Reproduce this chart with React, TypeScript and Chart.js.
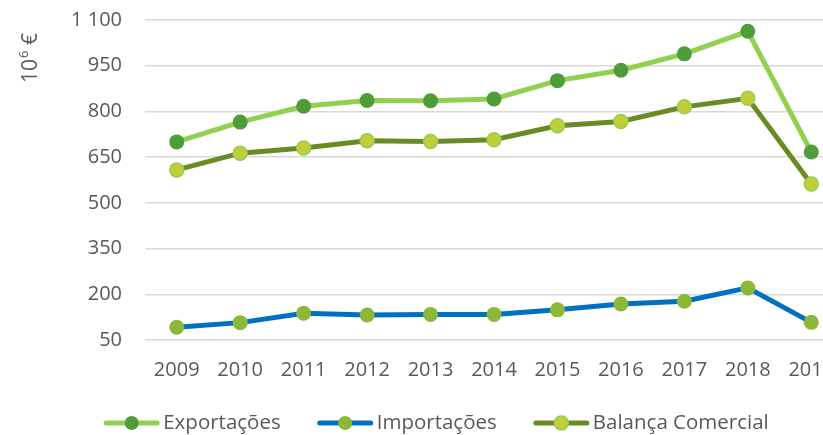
import React, { useEffect, useRef } from "react";
import { Chart, registerables } from "chart.js";

Chart.register(...registerables);

const years = ["2009", "2010", "2011", "2012", "2013", "2014", "2015", "2016", "2017", "2018", "2019"];
const exportacoes = [700, 765, 817, 836, 835, 841, 901, 935, 989, 1063, 667];
const importacoes = [92, 107, 138, 132, 134, 134, 149, 168, 177, 221, 108];
const balanca = [608, 663, 680, 704, 701, 707, 753, 767, 815, 843, 562];
const yTicks = [50, 200, 350, 500, 650, 800, 950, 1100];
const seriesNames = ["Exportações", "Importações", "Balança Comercial"];

const FONT = "'Open Sans', sans-serif";
const TEXT = "#595959";
const FS = 20;

const formatTick = (v: number) => {
  const s = String(Math.round(v));
  return s.length > 3 ? s.slice(0, s.length - 3) + " " + s.slice(-3) : s;
};

const overlayPlugin = {
  id: "overlay",
  afterDraw(chart: any) {
    const ctx = chart.ctx as CanvasRenderingContext2D;
    // y axis title "10^6 €"
    ctx.save();
    ctx.fillStyle = TEXT;
    ctx.translate(37, 83);
    ctx.rotate(-Math.PI / 2);
    ctx.textBaseline = "alphabetic";
    ctx.textAlign = "left";
    ctx.font = `21px ${FONT}`;
    ctx.fillText("10", 0, 0);
    let x = ctx.measureText("10").width;
    ctx.font = `13px ${FONT}`;
    ctx.fillText("6", x + 1, -9);
    x += ctx.measureText("6").width + 1;
    ctx.font = `21px ${FONT}`;
    ctx.fillText(" €", x, 0);
    ctx.restore();

    // legend
    ctx.save();
    ctx.font = `20.5px ${FONT}`;
    const symW = 55;
    const gap = 4;
    const spacing = 37;
    const ds = chart.data.datasets;
    const widths = ds.map((d: any) => symW + gap + ctx.measureText(d.label).width);
    const total = widths.reduce((a: number, b: number) => a + b, 0) + spacing * (ds.length - 1);
    let lx = 436.5 - total / 2;
    const ly = 423;
    ds.forEach((d: any, i: number) => {
      ctx.strokeStyle = d.borderColor;
      ctx.lineWidth = 5;
      ctx.lineCap = "round";
      ctx.beginPath();
      ctx.moveTo(lx + 2, ly);
      ctx.lineTo(lx + symW - 2, ly);
      ctx.stroke();
      ctx.beginPath();
      ctx.arc(lx + symW / 2, ly, 7, 0, Math.PI * 2);
      ctx.fillStyle = d.pointBackgroundColor;
      ctx.fill();
      if (d.pointBorderWidth > 0) {
        ctx.lineWidth = d.pointBorderWidth;
        ctx.strokeStyle = d.pointBorderColor;
        ctx.stroke();
      }
      ctx.fillStyle = TEXT;
      ctx.textBaseline = "middle";
      ctx.textAlign = "left";
      ctx.fillText(d.label, lx + symW + gap, ly);
      lx += widths[i] + spacing;
    });
    ctx.restore();
  },
};

export default function App() {
  const ref = useRef<HTMLCanvasElement>(null);
  useEffect(() => {
    if (!ref.current) return;
    const chart = new Chart(ref.current, {
      type: "line",
      data: {
        labels: years,
        datasets: [
          {
            label: seriesNames[0],
            data: exportacoes,
            borderColor: "#92D050",
            borderWidth: 5,
            pointRadius: 7.5,
            pointBackgroundColor: "#4F9D39",
            pointBorderColor: "#4F9D39",
            pointBorderWidth: 0,
            tension: 0,
          },
          {
            label: seriesNames[1],
            data: importacoes,
            borderColor: "#0070C0",
            borderWidth: 5,
            pointRadius: 7.5,
            pointBackgroundColor: "#8CB83A",
            pointBorderColor: "#8CB83A",
            pointBorderWidth: 0,
            tension: 0,
          },
          {
            label: seriesNames[2],
            data: balanca,
            borderColor: "#6A8B23",
            borderWidth: 5,
            pointRadius: 7,
            pointBackgroundColor: "#C2CD3A",
            pointBorderColor: "#92D050",
            pointBorderWidth: 1.5,
            tension: 0,
          },
        ],
      },
      options: {
        responsive: false,
        animation: false,
        devicePixelRatio: 1,
        layout: { padding: { top: 20, right: 30, bottom: 0, left: 0 } },
        plugins: { legend: { display: false }, tooltip: { enabled: false } },
        scales: {
          x: {
            offset: true,
            grid: { display: false, drawTicks: false },
            border: { display: false },
            ticks: { color: TEXT, font: { family: FONT, size: FS }, padding: 18, maxRotation: 0, autoSkip: false },
            afterFit: (s: any) => { s.height = 95; s.paddingLeft = 0; s.paddingRight = 0; },
          },
          y: {
            min: 50,
            max: 1100,
            afterBuildTicks: (s: any) => { s.ticks = yTicks.map((v) => ({ value: v })); },
            grid: { color: "#D9D9D9", lineWidth: 1.5, drawTicks: false },
            border: { display: false },
            ticks: { color: TEXT, font: { family: FONT, size: FS }, padding: 23, callback: (v: any) => formatTick(Number(v)) },
            afterFit: (s: any) => { s.width = 145; s.paddingTop = 0; s.paddingBottom = 0; },
          },
        },
      },
      plugins: [overlayPlugin],
    });
    return () => chart.destroy();
  }, []);
  return (
    <div style={{ position: "fixed", left: 0, top: 0, width: 823, height: 435, overflow: "hidden", background: "#fff" }}>
      <canvas ref={ref} width={873} height={435} style={{ width: 873, height: 435, display: "block" }} />
    </div>
  );
}
